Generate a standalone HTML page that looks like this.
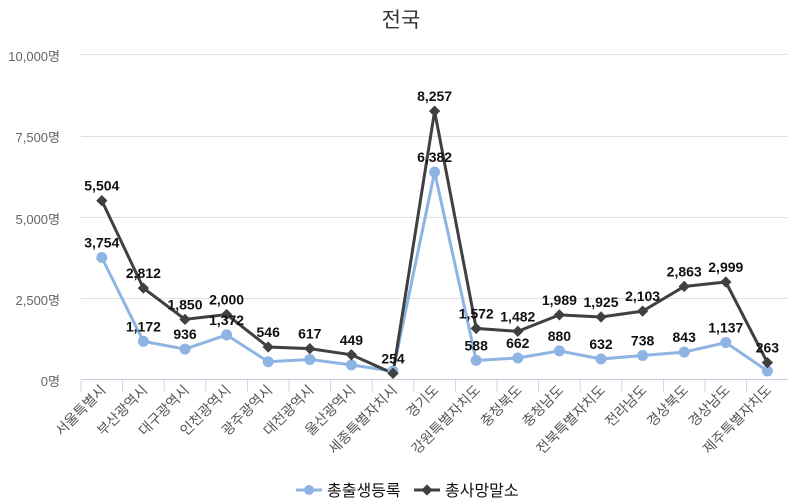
<!DOCTYPE html>
<html><head><meta charset="utf-8"><style>
body{margin:0;background:#fff}
svg{display:block;font-family:"Liberation Sans","Noto Sans CJK KR",sans-serif}
.t{font-size:13px;fill:#666}
.v{font-size:14px;font-weight:bold;fill:#111;text-anchor:middle}
.c{font-size:14px;fill:#555;text-anchor:end}
</style></head><body>
<svg width="802" height="500" viewBox="0 0 802 500">
<text x="401" y="27" font-size="21" fill="#333" text-anchor="middle">전국</text>
<g stroke="#e0e0e0" stroke-width="1">
<line x1="81" x2="788" y1="54.5" y2="54.5"/>
<line x1="81" x2="788" y1="136.5" y2="136.5"/>
<line x1="81" x2="788" y1="217.5" y2="217.5"/>
<line x1="81" x2="788" y1="298.5" y2="298.5"/>
</g>
<line x1="81" x2="788" y1="379.5" y2="379.5" stroke="#c5cfe0"/>
<g class="t" text-anchor="end">
<text x="60" y="61">10,000명</text>
<text x="60" y="142">7,500명</text>
<text x="60" y="224">5,000명</text>
<text x="60" y="305">2,500명</text>
<text x="60" y="386">0명</text>
</g>
<g id="ticks" stroke="#ccd4e0"></g>
<g id="lab"></g>
<polyline id="pb" fill="none" stroke="#8db4e2" stroke-width="3"/>
<polyline id="pd" fill="none" stroke="#404040" stroke-width="3"/>
<g id="mk"></g>
<g id="vals"></g>
<line x1="296" x2="322" y1="490" y2="490" stroke="#8db4e2" stroke-width="3"/>
<circle cx="309" cy="490" r="5" fill="#8db4e2"/>
<text x="327" y="496" font-size="16" fill="#111">총출생등록</text>
<line x1="414" x2="440" y1="490" y2="490" stroke="#404040" stroke-width="3"/>
<rect x="423" y="486" width="8" height="8" fill="#404040" transform="rotate(45 427 490)"/>
<text x="445" y="496" font-size="16" fill="#111">총사망말소</text>
</svg>
<script>
var cats=["서울특별시","부산광역시","대구광역시","인천광역시","광주광역시","대전광역시","울산광역시","세종특별자치시","경기도","강원특별자치도","충청북도","충청남도","전북특별자치도","전라남도","경상북도","경상남도","제주특별자치도"];
var b=[3754,1172,936,1372,546,617,449,254,6382,588,662,880,632,738,843,1137,263];
var d=[5504,2812,1850,2000,1000,950,760,190,8257,1572,1482,1989,1925,2103,2863,2999,520];
var bl=["3,754","1,172","936","1,372","","","","","6,382","588","662","880","632","738","843","1,137",""];
var dl=["5,504","2,812","1,850","2,000","546","617","449","254","8,257","1,572","1,482","1,989","1,925","2,103","2,863","2,999","263"];
var ns="http://www.w3.org/2000/svg";
function X(i){return 81+20.8+41.6*i}
function Y(v){return 379.5-v*0.0325}
function el(t,a,p,txt){var e=document.createElementNS(ns,t);for(var k in a)e.setAttribute(k,a[k]);if(txt)e.textContent=txt;document.getElementById(p).appendChild(e);return e}
var pb="",pd="";
for(var i=0;i<17;i++){
 var x=X(i);pb+=x+","+Y(b[i])+" ";pd+=x+","+Y(d[i])+" ";
 var tx=81+41.6*i;el("line",{x1:tx,x2:tx,y1:380,y2:392},"ticks");
 el("text",{class:"c",x:x+5,y:391,transform:"rotate(-45 "+(x+5)+" 391)"},"lab",cats[i]);
 el("circle",{cx:x,cy:Y(b[i]),r:5.5,fill:"#8db4e2"},"mk");
 el("rect",{x:x-4,y:Y(d[i])-4,width:8,height:8,fill:"#404040",transform:"rotate(45 "+x+" "+Y(d[i])+")"},"mk");
 if(bl[i])el("text",{class:"v",x:x,y:Y(b[i])-10},"vals",bl[i]);
 el("text",{class:"v",x:x,y:Y(d[i])-10},"vals",dl[i]);
}
document.getElementById("pb").setAttribute("points",pb);
document.getElementById("pd").setAttribute("points",pd);
</script>
</body></html>
